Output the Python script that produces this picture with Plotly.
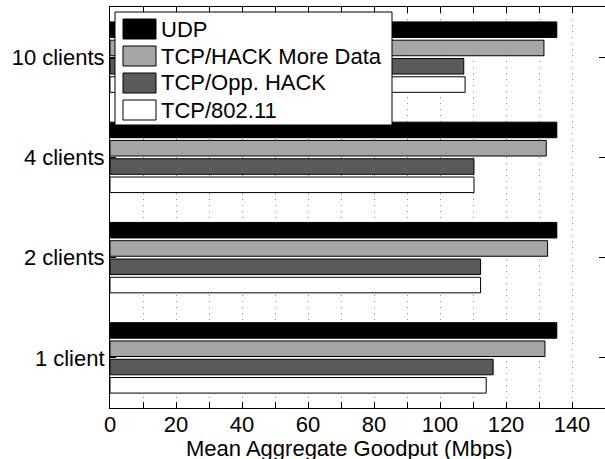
import plotly.graph_objects as go

categories = ["1 client", "2 clients", "4 clients", "10 clients"]
series_names = ["UDP", "TCP/HACK More Data", "TCP/Opp. HACK", "TCP/802.11"]
udp = [135.4, 135.4, 135.4, 135.4]
hack_more = [131.8, 132.6, 132.2, 131.5]
opp_hack = [116.1, 112.3, 110.3, 107.2]
tcp_80211 = [114.0, 112.3, 110.3, 107.6]
series_values = [udp, hack_more, opp_hack, tcp_80211]
colors = ["#000000", "#a6a6a6", "#5a5a5a", "#ffffff"]
x_tick_vals = list(range(0, 151, 10))
x_tick_text = [str(v) if v % 20 == 0 and v <= 140 else "" for v in x_tick_vals]
x_title = "Mean Aggregate Goodput (Mbps)"

FONT = "Liberation Sans, Arial, Helvetica, sans-serif"

fig = go.Figure()
# add in reverse so UDP sits on top within each group
for name, vals, col in reversed(list(zip(series_names, series_values, colors))):
    fig.add_trace(go.Bar(
        y=categories, x=vals, name=name, orientation="h",
        marker=dict(color=col, line=dict(color="#000000", width=1)),
        showlegend=False,
    ))

# plot-area pixel geometry
L, R, T, B = 110, 605, 7, 408
W, H = R - L, B - T
def px(x):
    return (x - L) / W
def py(y):
    return (B - y) / H

shapes = []
annotations = []
# legend box
shapes.append(dict(type="rect", xref="paper", yref="paper",
                   x0=px(115), x1=px(392), y0=py(125), y1=py(12),
                   line=dict(color="#000000", width=1), fillcolor="#ffffff", layer="above"))
entry_y = [29, 56, 83, 110]
for name, col, yc in zip(series_names, colors, entry_y):
    shapes.append(dict(type="rect", xref="paper", yref="paper",
                       x0=px(123), x1=px(156), y0=py(yc + 10), y1=py(yc - 10),
                       line=dict(color="#000000", width=1), fillcolor=col, layer="above"))
    annotations.append(dict(text=name, xref="paper", yref="paper",
                            x=px(159), y=py(yc), xanchor="left", yanchor="middle",
                            showarrow=False, font=dict(size=22, color="#000000", family=FONT)))
annotations.append(dict(text=x_title, xref="paper", yref="paper",
                        x=px(349), y=py(448), xanchor="center", yanchor="middle",
                        showarrow=False, font=dict(size=22, color="#000000", family=FONT)))

fig.update_layout(
    width=605, height=459,
    margin=dict(l=L, r=605 - R, t=T, b=459 - B, pad=0, autoexpand=False),
    paper_bgcolor="#ffffff", plot_bgcolor="#ffffff",
    barmode="group", bargap=0.27, bargroupgap=0.15,
    font=dict(family=FONT, size=22, color="#000000"),
    shapes=shapes, annotations=annotations,
    xaxis=dict(
        range=[0, 150], tickvals=x_tick_vals, ticktext=x_tick_text,
        ticks="inside", ticklen=6, tickcolor="#000000", mirror="ticks",
        showline=True, linecolor="#000000", linewidth=1,
        showgrid=True, gridcolor="#8c8c8c", griddash="1px,5px", gridwidth=1,
        zeroline=False, automargin=False, ticklabelstandoff=-3,
        tickfont=dict(size=22),
    ),
    yaxis=dict(
        categoryorder="array", categoryarray=categories,
        range=[-0.5, 3.5],
        ticks="inside", ticklen=6, tickcolor="#000000", mirror="ticks",
        showline=True, linecolor="#000000", linewidth=1,
        showgrid=False, zeroline=False, automargin=False,
        tickfont=dict(size=22),
    ),
)

fig.write_html(
    "out.html",
    config={"displayModeBar": False},
    post_script="document.body.style.margin='0';document.body.style.overflow='hidden';",
)
